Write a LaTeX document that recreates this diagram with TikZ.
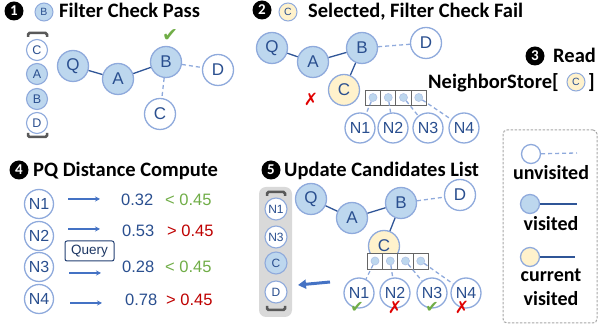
\documentclass[tikz,border=0pt]{standalone}
\usepackage{fontspec}
\setmainfont{Carlito}
\newfontfamily\arialf{Liberation Sans}
\newfontfamily\symf{DejaVu Sans}
\usetikzlibrary{arrows.meta}
\definecolor{nbfill}{HTML}{BDD7EE}
\definecolor{nbdraw}{HTML}{8FAADC}
\definecolor{ntext}{HTML}{2A4F8F}
\definecolor{edgec}{HTML}{2F5597}
\definecolor{yfill}{HTML}{FFF2CC}
\definecolor{okg}{HTML}{70AD47}
\definecolor{badr}{HTML}{E00000}
\definecolor{arrc}{HTML}{4472C4}
\definecolor{brkc}{HTML}{595959}
\tikzset{
  gnode/.style={circle, draw=nbdraw, line width=1.3pt, minimum size=31pt, inner sep=0pt, text=ntext, font=\arialf\fontsize{17}{17}\selectfont},
  nnode/.style={gnode, minimum size=30pt, font=\arialf\fontsize{16}{16}\selectfont},
  lnode/.style={gnode, line width=1.1pt, minimum size=21pt, font=\arialf\fontsize{12.5}{12.5}\selectfont},
  hnode/.style={gnode, line width=1pt, minimum size=18pt, font=\arialf\fontsize{10.5}{10.5}\selectfont},
  vis/.style={fill=nbfill},
  unv/.style={fill=white},
  cur/.style={fill=yfill},
  solidE/.style={draw=edgec, line width=1.3pt},
  dashE/.style={draw=nbdraw, line width=1.3pt, dash pattern=on 4pt off 3pt},
  numc/.style={circle, fill=black, text=white, minimum size=19pt, inner sep=0pt, font=\bfseries\fontsize{15}{15}\selectfont},
  head/.style={anchor=base west, inner sep=0pt, font=\bfseries\fontsize{20.5}{20.5}\selectfont},
  legt/.style={anchor=base, inner sep=0pt, font=\bfseries\fontsize{20}{20}\selectfont},
  brk/.style={draw=brkc, line width=2.5pt, rounded corners=1.5pt},
  cell/.style={rectangle, draw=gray!80!black, fill=white, line width=1pt, minimum width=15.25pt, minimum height=15.5pt, inner sep=0pt},
  dotn/.style={circle, fill=nbfill, draw=nbdraw!70, line width=0.6pt, minimum size=8pt, inner sep=0pt},
  okmark/.style={text=okg, inner sep=0pt, font=\symf\fontsize{16}{16}\selectfont},
  badmark/.style={text=badr, inner sep=0pt, font=\symf\fontsize{17}{17}\selectfont},
  valt/.style={anchor=base west, inner sep=0pt, text=ntext, font=\arialf\fontsize{16.5}{16.5}\selectfont},
  smallarr/.style={draw=arrc, line width=1.5pt, -{Stealth[length=5pt,width=5pt]}},
}
\begin{document}
\begin{tikzpicture}[x=1pt,y=-1pt]
\useasboundingbox (0,0) rectangle (598,328);

% ---------------- Panel 1
\node[numc] (n1) at (14,11) {1};
\node[hnode,vis] (h1) at (44,12) {B};
\node[head] (t1) at (59,18) {Filter Check Pass};
\draw[brk] (28,37) -- (28,33) -- (47,33) -- (47,37);
\draw[brk] (28,133) -- (28,137) -- (47,137) -- (47,133);
\node[lnode,unv] (l1c) at (37,50) {C};
\node[lnode,vis] (l1a) at (37,74) {A};
\node[lnode,vis] (l1b) at (37,99) {B};
\node[lnode,unv] (l1d) at (37,123) {D};
\node[gnode,vis] (p1q) at (73,66) {Q};
\node[gnode,vis] (p1a) at (118,79) {A};
\node[gnode,vis] (p1b) at (166,62) {B};
\node[gnode,unv] (p1d) at (218,70) {D};
\node[gnode,unv] (p1c) at (160,114) {C};
\draw[solidE] (p1q) -- (p1a);
\draw[solidE] (p1a) -- (p1b);
\draw[dashE] (p1b) -- (p1d);
\draw[dashE] (p1b) -- (p1c);
\node[okmark, font=\symf\fontsize{19}{19}\selectfont] (ck1) at (170,36) {✔};

% ---------------- Panel 2
\node[numc] (n2) at (262,10) {2};
\node[hnode,cur] (h2) at (288,12) {C};
\node[head] (t2) at (308,18) {Selected, Filter Check Fail};
\node[gnode,vis] (p2q) at (272,48) {Q};
\node[gnode,vis] (p2a) at (313,62) {A};
\node[gnode,vis] (p2b) at (362,48) {B};
\node[gnode,unv] (p2d) at (426,43) {D};
\node[gnode,cur] (p2c) at (344,90) {C};
\draw[solidE] (p2q) -- (p2a);
\draw[solidE] (p2a) -- (p2b);
\draw[solidE] (p2b) -- (p2c);
\draw[dashE] (p2b) -- (p2d);
\node[badmark] (x2) at (311,99) {✗};
\foreach \i/\x in {1/373,2/388.25,3/403.5,4/418.75}{
  \node[cell] (c2\i) at (\x,98) {};
  \node[dotn] (d2\i) at (\x,97.5) {};
}
\node[nnode,unv] (p2n1) at (360,128) {N1};
\node[nnode,unv] (p2n2) at (393,128) {N2};
\node[nnode,unv] (p2n3) at (428,128) {N3};
\node[nnode,unv] (p2n4) at (464,128) {N4};
\draw[dashE] (d21) -- (p2n1);
\draw[dashE] (d22) -- (p2n2);
\draw[dashE] (d23) -- (p2n3);
\draw[dashE] (d24) -- (p2n4);

% ---------------- Panel 3
\node[numc] (n3) at (535,56) {3};
\node[head] (t3a) at (553,63) {Read};
\node[head] (t3b) at (428,89) {NeighborStore[};
\node[hnode,cur] (h3) at (576,82) {C};
\node[head] (t3c) at (588,89) {]};

% ---------------- Panel 4
\node[numc] (n4) at (19,170) {4};
\node[head] (t4) at (33,177) {PQ Distance Compute};
\node[nnode,unv,minimum size=29pt] (q1) at (39,204) {N1};
\node[nnode,unv,minimum size=29pt] (q2) at (39,236) {N2};
\node[nnode,unv,minimum size=29pt] (q3) at (39,267) {N3};
\node[nnode,unv,minimum size=29pt] (q4) at (39,299) {N4};
\coordinate (a1s) at (68,199); \coordinate (a1e) at (100,199);
\coordinate (a2s) at (68,229); \coordinate (a2e) at (100,229);
\coordinate (a3s) at (69,273); \coordinate (a3e) at (101,273);
\coordinate (a4s) at (70,303); \coordinate (a4e) at (102,303);
\draw[smallarr] (a1s) -- (a1e);
\draw[smallarr] (a2s) -- (a2e);
\draw[smallarr] (a3s) -- (a3e);
\draw[smallarr] (a4s) -- (a4e);
\node[draw=ntext!80!black, line width=1pt, rounded corners=2pt, fill=white, minimum width=49pt, minimum height=20pt, inner sep=0pt, text=ntext!70!black, font=\arialf\fontsize{13.5}{13.5}\selectfont] (qry) at (89.5,251) {Query};
\node[valt] (v1) at (121,206) {0.32};
\node[valt] (v2) at (122,237) {0.53};
\node[valt] (v3) at (122,273) {0.28};
\node[valt] (v4) at (125,306) {0.78};
\node[valt, text=okg] (c1) at (165,206) {< 0.45};
\node[valt, text=badr!85!black] (c2) at (167,237) {> 0.45};
\node[valt, text=okg] (c3) at (165,273) {< 0.45};
\node[valt, text=badr!85!black] (c4) at (166,306) {> 0.45};

% ---------------- Panel 5
\node[numc] (n5) at (271,170) {5};
\node[head] (t5) at (284,177) {Update Candidates List};
\node[fill=black!15, rounded corners=7pt, minimum width=33pt, minimum height=130pt, inner sep=0pt] (lst) at (275.5,252) {};
\draw[brk] (267,196) -- (267,192) -- (285,192) -- (285,196);
\draw[brk] (267,306) -- (267,310) -- (285,310) -- (285,306);
\node[lnode,unv,minimum size=22pt,font=\arialf\fontsize{12}{12}\selectfont] (m1) at (276,209) {N1};
\node[lnode,unv,minimum size=22pt,font=\arialf\fontsize{12}{12}\selectfont] (m3) at (276,237) {N3};
\node[lnode,vis,minimum size=22pt,font=\arialf\fontsize{12}{12}\selectfont] (mc) at (276,263) {C};
\node[lnode,unv,minimum size=22pt,font=\arialf\fontsize{12}{12}\selectfont] (md) at (276,292) {D};
\coordinate (bas) at (330,282);
\coordinate (bae) at (298,285);
\draw[draw=arrc, line width=3pt, -{Triangle[length=8pt,width=9pt]}] (bas) -- (bae);

\node[gnode,vis] (p5q) at (311,199) {Q};
\node[gnode,vis] (p5a) at (352,218) {A};
\node[gnode,vis] (p5b) at (401,203) {B};
\node[gnode,unv] (p5d) at (460,195) {D};
\node[gnode,cur] (p5c) at (384,246) {C};
\draw[solidE] (p5q) -- (p5a);
\draw[solidE] (p5a) -- (p5b);
\draw[solidE] (p5b) -- (p5c);
\draw[dashE] (p5b) -- (p5d);
\foreach \i/\x in {1/375,2/390.25,3/405.5,4/420.75}{
  \node[cell] (c5\i) at (\x,261.5) {};
  \node[dotn] (d5\i) at (\x,261) {};
}
\node[nnode,unv] (p5n1) at (359,293) {N1};
\node[nnode,unv] (p5n2) at (395,293) {N2};
\node[nnode,unv] (p5n3) at (432,293) {N3};
\node[nnode,unv] (p5n4) at (466,293) {N4};
\draw[dashE] (d51) -- (p5n1);
\draw[dashE] (d52) -- (p5n2);
\draw[dashE] (d53) -- (p5n3);
\draw[dashE] (d54) -- (p5n4);
\node[okmark] (k51) at (357,307) {✔};
\node[badmark] (k52) at (395,307) {✗};
\node[okmark] (k53) at (432,307) {✔};
\node[badmark] (k54) at (462,307) {✗};

% ---------------- Legend
\node[draw=gray!70, dash pattern=on 2.5pt off 1.5pt, line width=1pt, rounded corners=4pt, minimum width=94pt, minimum height=193pt, inner sep=0pt] (leg) at (550,226.5) {};
\node[gnode,unv,minimum size=19pt] (lg1) at (531,154) {};
\coordinate (lg1e) at (577,153);
\draw[dashE] (lg1) -- (lg1e);
\node[legt] (lt1) at (551,180) {unvisited};
\node[gnode,vis,minimum size=19pt] (lg2) at (530,204) {};
\coordinate (lg2e) at (577,204);
\draw[solidE] (lg2) -- (lg2e);
\node[legt] (lt2) at (551,231) {visited};
\node[gnode,cur,minimum size=19pt] (lg3) at (530,257) {};
\coordinate (lg3e) at (575,257);
\draw[solidE] (lg3) -- (lg3e);
\node[legt] (lt3) at (551,282) {current};
\node[legt] (lt4) at (551,306) {visited};
\end{tikzpicture}
\end{document}
